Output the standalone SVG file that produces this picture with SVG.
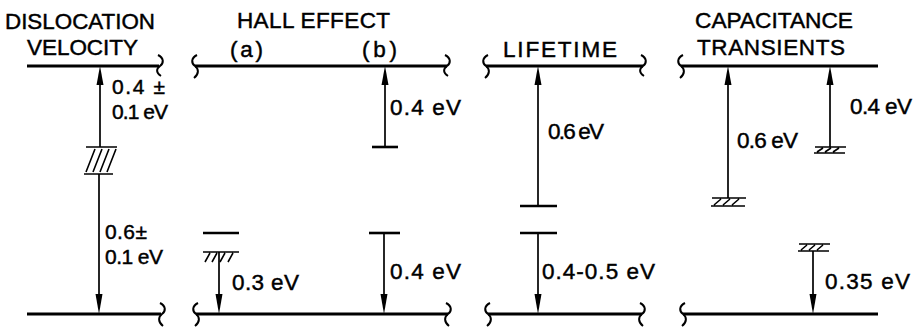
<svg xmlns="http://www.w3.org/2000/svg" width="920" height="329" viewBox="0 0 920 329">
<style>
  text { font-family: "Liberation Sans", Arial, sans-serif; font-size: 22.5px; fill: #000; stroke: #000; stroke-width: 0.45; }
  text.stk { font-size: 21px; }
  .band { stroke: #000; stroke-width: 3; fill: none; }
  .brk { stroke: #000; stroke-width: 2; fill: none; }
  .shaft { stroke: #000; stroke-width: 1.7; fill: none; }
  .lvl { stroke: #000; stroke-width: 2.6; fill: none; }
  .hatch { stroke: #000; stroke-width: 1.6; fill: none; }
  .head { fill: #000; }
</style>
<rect width="920" height="329" fill="#fff"/>

<!-- Band edges -->
<g id="bands">
  <line class="band" x1="27" y1="66" x2="159" y2="66"/>
  <line class="band" x1="27" y1="314" x2="161" y2="314"/>
  <line class="band" x1="195" y1="66" x2="447" y2="66"/>
  <line class="band" x1="196" y1="314" x2="448" y2="314"/>
  <line class="band" x1="486" y1="66" x2="643" y2="66"/>
  <line class="band" x1="488" y1="314" x2="642" y2="314"/>
  <line class="band" x1="681" y1="66" x2="878" y2="66"/>
  <line class="band" x1="683" y1="314" x2="878" y2="314"/>
  <!-- break marks -->
  <path class="brk" d="M158,55 C164,58 164,63 160,66 C156,69 156,73 161,76"/>
  <path class="brk" d="M160,303 C166,306 166,311 162,314 C158,317 158,322 163,326"/>
  <path class="brk" d="M197,55 C191,58 191,63 195,66 C199,69 199,74 194,78"/>
  <path class="brk" d="M198,303 C192,306 192,311 196,314 C200,317 200,322 195,326"/>
  <path class="brk" d="M445,55 C451,58 451,63 447,66 C443,69 443,73 448,76"/>
  <path class="brk" d="M446,303 C452,306 452,311 448,314 C444,317 444,322 449,326"/>
  <path class="brk" d="M488,55 C482,58 482,63 486,66 C490,69 490,74 485,78"/>
  <path class="brk" d="M490,303 C484,306 484,311 488,314 C492,317 492,322 487,326"/>
  <path class="brk" d="M641,55 C647,58 647,63 643,66 C639,69 639,73 644,76"/>
  <path class="brk" d="M640,303 C646,306 646,311 642,314 C638,317 638,322 643,326"/>
  <path class="brk" d="M683,55 C677,58 677,63 681,66 C685,69 685,74 680,78"/>
  <path class="brk" d="M685,303 C679,306 679,311 683,314 C687,317 687,322 682,326"/>
</g>

<!-- Headings -->
<g id="headings">
  <text x="5" y="29" textLength="150" lengthAdjust="spacingAndGlyphs">DISLOCATION</text>
  <text x="27" y="55" textLength="111" lengthAdjust="spacing">VELOCITY</text>
  <text x="237" y="28" textLength="153" lengthAdjust="spacing">HALL EFFECT</text>
  <text x="230" y="57" textLength="33" lengthAdjust="spacing">(a)</text>
  <text x="362" y="57" textLength="35" lengthAdjust="spacing">(b)</text>
  <text x="503" y="57" textLength="114" lengthAdjust="spacing">LIFETIME</text>
  <text x="695" y="28" textLength="158" lengthAdjust="spacingAndGlyphs">CAPACITANCE</text>
  <text x="697" y="55" textLength="148" lengthAdjust="spacing">TRANSIENTS</text>
</g>

<!-- Dislocation velocity -->
<g id="dislocation">
  <path class="hatch" d="M86,147 L117,147 M84,174 L113,174 M86,172 L95,149 M93,172 L102,149 M100,172 L109,149 M107,172 L116,149"/>
  <line class="shaft" x1="100" y1="147" x2="100" y2="82"/>
  <polygon class="head" points="100,66 96.5,85 103.5,85"/>
  <line class="shaft" x1="99" y1="174" x2="99" y2="296"/>
  <polygon class="head" points="99,314 95.5,294 102.5,294"/>
  <text class="stk" x="112" y="94" textLength="53" lengthAdjust="spacing">0.4 ±</text>
  <text class="stk" x="112" y="119" textLength="56" lengthAdjust="spacing">0.1 eV</text>
  <text class="stk" x="105" y="239" textLength="42" lengthAdjust="spacing">0.6±</text>
  <text class="stk" x="105" y="264" textLength="58" lengthAdjust="spacing">0.1 eV</text>
</g>

<!-- Hall effect (a) -->
<g id="hall-a">
  <line class="lvl" x1="203" y1="233" x2="239" y2="233"/>
  <path class="hatch" d="M203,252 L239,252 M205,262 L210,253 M212,262 L217,253 M220,262 L225,253 M228,262 L233,253"/>
  <line class="shaft" x1="219" y1="252" x2="219" y2="296"/>
  <polygon class="head" points="219,314 215.5,294 222.5,294"/>
  <text x="232" y="290" textLength="67" lengthAdjust="spacing">0.3 eV</text>
</g>

<!-- Hall effect (b) -->
<g id="hall-b">
  <line class="lvl" x1="372" y1="147" x2="398" y2="147"/>
  <line class="shaft" x1="385" y1="147" x2="385" y2="82"/>
  <polygon class="head" points="385,66 381.5,85 388.5,85"/>
  <text x="390" y="115" textLength="71" lengthAdjust="spacing">0.4 eV</text>
  <line class="lvl" x1="369" y1="233" x2="400" y2="233"/>
  <line class="shaft" x1="384" y1="233" x2="384" y2="296"/>
  <polygon class="head" points="384,314 380.5,294 387.5,294"/>
  <text x="390" y="279" textLength="71" lengthAdjust="spacing">0.4 eV</text>
</g>

<!-- Lifetime -->
<g id="lifetime">
  <line class="lvl" x1="520" y1="206" x2="557" y2="206"/>
  <line class="shaft" x1="538" y1="206" x2="538" y2="82"/>
  <polygon class="head" points="538,66 534.5,85 541.5,85"/>
  <text x="548" y="139" textLength="56" lengthAdjust="spacing">0.6 eV</text>
  <line class="lvl" x1="520" y1="233" x2="557" y2="233"/>
  <line class="shaft" x1="538" y1="233" x2="538" y2="296"/>
  <polygon class="head" points="538,314 534.5,294 541.5,294"/>
  <text x="542" y="279" textLength="113" lengthAdjust="spacing">0.4-0.5 eV</text>
</g>

<!-- Capacitance transients -->
<g id="capacitance">
  <path class="hatch" d="M712,198 L746,198 M711,206 L745,206 M714,205 L721,199 M723,205 L730,199 M732,205 L739,199" stroke-width="1.8"/>
  <line class="shaft" x1="728" y1="198" x2="728" y2="82"/>
  <polygon class="head" points="728,66 724.5,85 731.5,85"/>
  <text x="737" y="148" textLength="61" lengthAdjust="spacing">0.6 eV</text>

  <path class="hatch" d="M815,147 L846,147 M814,153 L845,153 M817,152 L823,148 M825,152 L831,148 M833,152 L839,148" stroke-width="1.8"/>
  <line class="shaft" x1="830" y1="147" x2="830" y2="82"/>
  <polygon class="head" points="830,66 826.5,85 833.5,85"/>
  <text x="850" y="114" textLength="62" lengthAdjust="spacing">0.4 eV</text>

  <path class="hatch" d="M799,244 L830,244 M798,251 L829,251 M801,250 L807,245 M809,250 L815,245 M817,250 L823,245" stroke-width="1.8"/>
  <line class="shaft" x1="813" y1="251" x2="813" y2="296"/>
  <polygon class="head" points="813,314 809.5,294 816.5,294"/>
  <text x="825" y="289" textLength="85" lengthAdjust="spacing">0.35 eV</text>
</g>
</svg>
